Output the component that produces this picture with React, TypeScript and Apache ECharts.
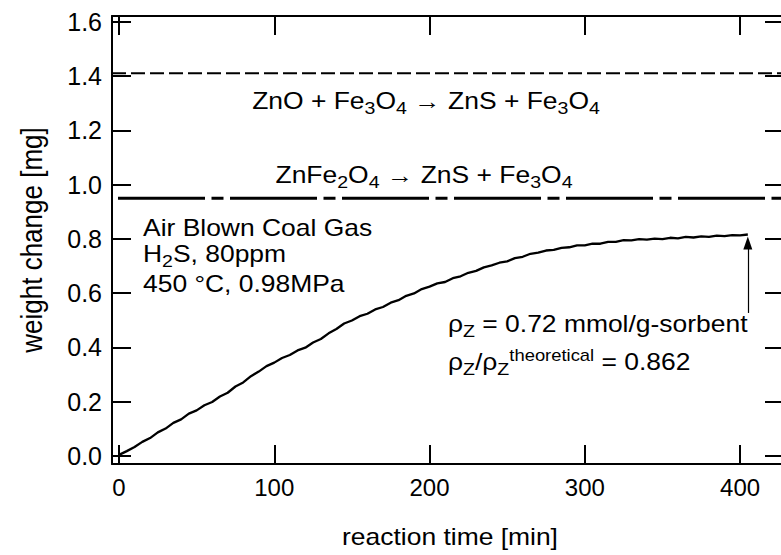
import React, { useEffect, useRef } from "react";
import * as echarts from "echarts";

// ---- data ----
const timeMin = [
  0, 5, 10, 15, 20, 25, 30, 35, 40, 45, 50, 55, 60, 65, 70, 75, 80, 85, 90, 95,
  100, 105, 110, 115, 120, 125, 130, 135, 140, 145, 150, 155, 160, 165, 170, 175,
  180, 185, 190, 195, 200, 205, 210, 215, 220, 225, 230, 235, 240, 245, 250, 255,
  260, 265, 270, 275, 280, 285, 290, 295, 300, 305, 310, 315, 320, 325, 330, 335,
  340, 345, 350, 355, 360, 365, 370, 375, 380, 385, 390, 395, 400, 405,
];
const weightMg = [
  0.004, 0.018, 0.033, 0.052, 0.066, 0.087, 0.101, 0.122, 0.135, 0.156, 0.168,
  0.187, 0.199, 0.219, 0.233, 0.256, 0.271, 0.294, 0.311, 0.331, 0.344, 0.361,
  0.372, 0.389, 0.399, 0.418, 0.431, 0.452, 0.468, 0.488, 0.499, 0.515, 0.524,
  0.54, 0.549, 0.565, 0.574, 0.59, 0.599, 0.615, 0.624, 0.636, 0.641, 0.655,
  0.662, 0.675, 0.682, 0.695, 0.702, 0.712, 0.717, 0.729, 0.734, 0.745, 0.749,
  0.757, 0.759, 0.767, 0.769, 0.776, 0.776, 0.782, 0.782, 0.789, 0.789, 0.795,
  0.794, 0.799, 0.797, 0.801, 0.799, 0.804, 0.802, 0.807, 0.805, 0.809, 0.807,
  0.812, 0.81, 0.814, 0.813, 0.816,
];
const xTicks = [0, 100, 200, 300, 400];
const yTicks = [0, 0.2, 0.4, 0.6, 0.8, 1.0, 1.2, 1.4, 1.6];
const levelZnO = [1.41]; // ZnO + Fe3O4 -> ZnS + Fe3O4
const levelZnFe2O4 = [0.95]; // ZnFe2O4 -> ZnS + Fe3O4
const arrowTime = [405, 405];
const arrowWeight = [0.527, 0.785];

const X_MIN = -4.51;
const X_MAX = 428.3;
const Y_MIN = -0.0295;
const Y_MAX = 1.621;

const FONT = "'Liberation Sans', Arial, Helvetica, sans-serif";
const SX = 1.15;

export default function App() {
  const ref = useRef<HTMLDivElement>(null);

  useEffect(() => {
    if (!ref.current) return;
    const chart = echarts.init(ref.current, undefined, { renderer: "svg" });

    const axisLineStyle = { color: "#000", width: 2 };
    const sub = { fontSize: 17, fontFamily: FONT, fill: "#000", lineHeight: 10, verticalAlign: "bottom" };
    const sup = { fontSize: 16, fontFamily: FONT, fill: "#000", lineHeight: 14, verticalAlign: "top" };
    const mainText = (extra: any) => ({
      fontSize: 23,
      fontFamily: FONT,
      fill: "#000",
      lineHeight: 30,
      verticalAlign: "top",
      rich: { s: sub, p: sup },
      ...extra,
    });
    const option: any = {
      animation: false,
      backgroundColor: "#fff",
      grid: { left: 112, top: 16, width: 672, height: 448, outerBoundsMode: "none", containLabel: false },
      xAxis: [
        {
          type: "value",
          min: X_MIN,
          max: X_MAX,
          position: "bottom",
          axisLine: { show: true, onZero: false, lineStyle: axisLineStyle },
          axisTick: { show: true, inside: true, length: 19, lineStyle: axisLineStyle, customValues: xTicks },
          axisLabel: { show: true, customValues: xTicks, color: "#000", fontSize: 24, fontFamily: FONT, margin: 11 },
          splitLine: { show: false },
        },
        {
          type: "value",
          min: X_MIN,
          max: X_MAX,
          position: "top",
          axisLine: { show: true, onZero: false, lineStyle: axisLineStyle },
          axisTick: { show: true, inside: true, length: 19, lineStyle: axisLineStyle, customValues: xTicks },
          axisLabel: { show: false, customValues: xTicks },
          splitLine: { show: false },
        },
      ],
      yAxis: [
        {
          type: "value",
          min: Y_MIN,
          max: Y_MAX,
          position: "left",
          axisLine: { show: true, onZero: false, lineStyle: axisLineStyle },
          axisTick: { show: true, inside: true, length: 19, lineStyle: axisLineStyle, customValues: yTicks },
          axisLabel: {
            show: true,
            customValues: yTicks,
            color: "#000",
            fontSize: 25,
            fontFamily: FONT,
            margin: 10,
            formatter: (v: number) => v.toFixed(1),
          },
          splitLine: { show: false },
        },
        {
          type: "value",
          min: Y_MIN,
          max: Y_MAX,
          position: "right",
          axisLine: { show: true, onZero: false, lineStyle: axisLineStyle },
          axisTick: { show: true, inside: true, length: 19, lineStyle: axisLineStyle, customValues: yTicks },
          axisLabel: { show: false, customValues: yTicks },
          splitLine: { show: false },
        },
      ],
      series: [
        {
          type: "line",
          name: "ZnO level",
          data: [
            [X_MIN, levelZnO[0]],
            [X_MAX, levelZnO[0]],
          ],
          symbol: "none",
          silent: true,
          lineStyle: { color: "#000", width: 2, type: [14, 5], dashOffset: 0 },
        },
        {
          type: "line",
          name: "ZnFe2O4 level",
          data: [
            [X_MIN, levelZnFe2O4[0]],
            [X_MAX, levelZnFe2O4[0]],
          ],
          symbol: "none",
          silent: true,
          lineStyle: { color: "#000", width: 3, type: [87, 6.5, 12, 6.5], dashOffset: 105.5 },
        },
        {
          type: "line",
          name: "weight change",
          data: timeMin.map((t, i) => [t, weightMg[i]]),
          symbol: "none",
          lineStyle: { color: "#000", width: 2.3 },
          markLine: {
            silent: true,
            symbol: ["none", "triangle"],
            symbolSize: [9, 13],
            label: { show: false },
            lineStyle: { color: "#000", width: 1.2, type: "solid" },
            itemStyle: { color: "#000" },
            data: [
              [
                { coord: [arrowTime[0], arrowWeight[0]] },
                { coord: [arrowTime[1], arrowWeight[1]] },
              ],
            ],
          },
        },
      ],
      graphic: [
        {
          type: "text",
          x: 426,
          y: 109 - 23,
          scaleX: SX,
          style: mainText({ text: "ZnO + Fe{s|3}O{s|4} \u2192 ZnS + Fe{s|3}O{s|4}", align: "center" }),
        },
        {
          type: "text",
          x: 424,
          y: 183 - 23,
          scaleX: SX,
          style: mainText({ text: "ZnFe{s|2}O{s|4} \u2192 ZnS + Fe{s|3}O{s|4}", align: "center" }),
        },
        {
          type: "text",
          x: 143,
          y: 236 - 23,
          scaleX: SX,
          style: mainText({ text: "Air Blown Coal Gas", align: "left" }),
        },
        {
          type: "text",
          x: 143,
          y: 262 - 23,
          scaleX: SX,
          style: mainText({ text: "H{s|2}S, 80ppm", align: "left" }),
        },
        {
          type: "text",
          x: 143,
          y: 292 - 23,
          scaleX: SX,
          style: mainText({ text: "450 \u00B0C, 0.98MPa", align: "left" }),
        },
        {
          type: "text",
          x: 448,
          y: 332 - 23,
          scaleX: SX,
          style: mainText({ text: "\u03C1{s|Z} = 0.72 mmol/g-sorbent", align: "left" }),
        },
        {
          type: "text",
          x: 448,
          y: 370 - 23,
          scaleX: SX,
          style: mainText({ text: "\u03C1{s|Z}/\u03C1{s|Z}{p|theoretical} = 0.862", align: "left" }),
        },
        {
          type: "text",
          x: 450,
          y: 537,
          scaleX: SX,
          style: {
            text: "reaction time [min]",
            fontSize: 23,
            fontFamily: FONT,
            fill: "#000",
            align: "center",
            verticalAlign: "middle",
          },
        },
        {
          type: "text",
          x: 32,
          y: 240,
          rotation: Math.PI / 2,
          scaleY: 1.1,
          style: {
            text: "weight change [mg]",
            fontSize: 26,
            fontFamily: FONT,
            fill: "#000",
            align: "center",
            verticalAlign: "middle",
          },
        },
      ],
    };

    chart.setOption(option);
    return () => chart.dispose();
  }, []);

  return (
    <div
      style={{
        position: "fixed",
        left: 0,
        top: 0,
        width: 781,
        height: 555,
        overflow: "hidden",
        background: "#fff",
      }}
    >
      <div ref={ref} style={{ width: 800, height: 555 }} />
    </div>
  );
}
